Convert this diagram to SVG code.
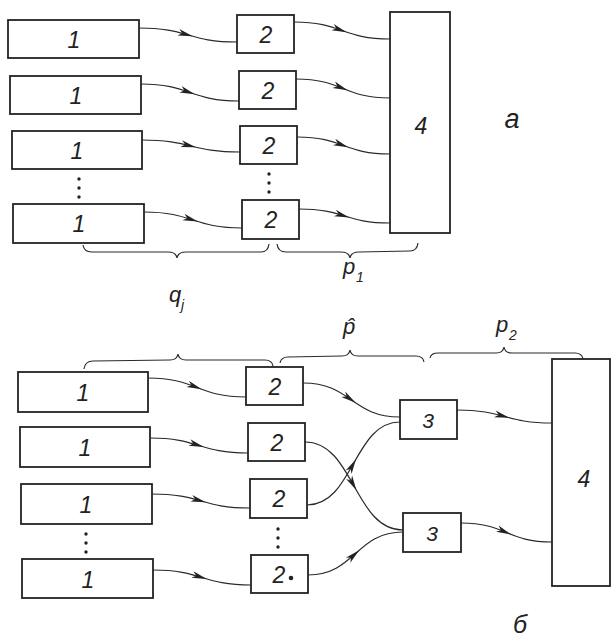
<svg xmlns="http://www.w3.org/2000/svg" width="612" height="639" viewBox="0 0 612 639">
<defs>
<style>
.box{fill:none;stroke:#232323;stroke-width:1.8}
.con{fill:none;stroke:#2a2a2a;stroke-width:1.2;marker-mid:url(#ah)}
.br{fill:none;stroke:#2a2a2a;stroke-width:1.2}
.lb{font-family:"Liberation Sans",Arial,sans-serif;font-style:italic;font-size:23px;fill:#222;text-anchor:middle}
.sym{font-family:"Liberation Sans",Arial,sans-serif;font-style:italic;font-size:22px;fill:#222}
.sub{font-family:"Liberation Sans",Arial,sans-serif;font-style:italic;font-size:14px;fill:#222}
.dot{fill:#222}
</style>
<marker id="ah" viewBox="-16 -4 17 8" refX="-5" refY="0" markerWidth="17" markerHeight="8" markerUnits="userSpaceOnUse" orient="auto">
<path d="M0,0 L-15,-3.4 L-11,0 L-15,3.4 Z" fill="#222"/>
</marker>
</defs>
<rect width="612" height="639" fill="#ffffff"/>

<!-- Part а -->
<g id="a-src1-1"><rect class="box" x="8" y="20" width="131" height="38"/><text class="lb" x="74" y="48">1</text></g>
<g id="a-src1-2"><rect class="box" x="10" y="76" width="131" height="38"/><text class="lb" x="76" y="104">1</text></g>
<g id="a-src1-3"><rect class="box" x="12" y="131" width="130" height="38"/><text class="lb" x="77" y="159">1</text></g>
<g id="a-src1-4"><rect class="box" x="13" y="204" width="131" height="39"/><text class="lb" x="79" y="232">1</text></g>
<g id="a-dots1"><circle class="dot" cx="79" cy="179" r="1.7"/><circle class="dot" cx="79" cy="188" r="1.7"/><circle class="dot" cx="79" cy="197" r="1.7"/></g>

<g id="a-b2-1"><rect class="box" x="237" y="15" width="57" height="38"/><text class="lb" x="266" y="43">2</text></g>
<g id="a-b2-2"><rect class="box" x="239" y="71" width="57" height="38"/><text class="lb" x="268" y="99">2</text></g>
<g id="a-b2-3"><rect class="box" x="240" y="126" width="57" height="38"/><text class="lb" x="269" y="154">2</text></g>
<g id="a-b2-4"><rect class="box" x="242" y="200" width="57" height="39"/><text class="lb" x="271" y="228">2</text></g>
<g id="a-dots2"><circle class="dot" cx="269" cy="174" r="1.7"/><circle class="dot" cx="269" cy="183" r="1.7"/><circle class="dot" cx="269" cy="192" r="1.7"/></g>

<g id="a-b4"><rect class="box" x="390" y="12" width="60" height="221"/><text class="lb" x="421" y="134">4</text></g>

<g id="a-connectors">
<path class="con" d="M139,28 C163.5,28 175.75,31.5 188,35 C200.25,38.5 212.5,42 237,42"/>
<path class="con" d="M294,22 C318,22 330,26.25 342,30.5 C354,34.75 366,39 390,39"/>
<path class="con" d="M141,84 C165.5,84 177.75,88.25 190,92.5 C202.25,96.75 214.5,101 239,101"/>
<path class="con" d="M296,79 C319.5,79 331.25,83.75 343,88.5 C354.75,93.25 366.5,98 390,98"/>
<path class="con" d="M142,140 C166.5,140 178.75,143 191,146 C203.25,149 215.5,152 240,152"/>
<path class="con" d="M297,137 C320.25,137 331.9,141.25 343.5,145.5 C355.1,149.75 366.75,154 390,154"/>
<path class="con" d="M144,212 C168.5,212 180.75,216 193,220 C205.25,224 217.5,228 242,228"/>
<path class="con" d="M299,209 C321.75,209 333.1,212.5 344.5,216 C355.9,219.5 367.25,223 390,223"/>
</g>

<g id="a-braces">
<path class="br" d="M83,245 Q84,252 92,252 L168,252 Q176,252 177,258 Q178,252 186,252 L261,252 Q268,252 269,244"/>
<path class="br" d="M277,244 Q278,252 286,252 L341,252 Q349,252 350,258 Q351,252 359,252 L410,251 Q417,251 418,243"/>
</g>
<g id="a-labels">
<text class="sym" x="343" y="274">p</text><text class="sub" x="356" y="282">1</text>
<text class="sym" x="169" y="302">q</text><text class="sub" x="181" y="310">j</text>
<text class="sym" x="343" y="334">p̂</text>
<text class="sym" x="496" y="332">p</text><text class="sub" x="509" y="340">2</text>
<text class="sym" x="512" y="128" style="font-size:27px;text-anchor:middle">а</text>
</g>

<!-- Part б -->
<g id="b-braces">
<path class="br" d="M84,369 Q85,361 93,361 L170,360 Q177,360 178,354 Q179,360 186,360 L265,360 Q272,360 273,366"/>
<path class="br" d="M280,363 Q281,357 288,357 L342,356 Q349,356 350,350 Q351,356 358,356 L416,356 Q423,356 424,362"/>
<path class="br" d="M430,358 Q431,353 438,353 L496,353 Q503,353 504,347 Q505,353 512,353 L575,353 Q582,353 583,359"/>
</g>

<g id="b-src1-1"><rect class="box" x="18" y="372" width="130" height="40"/><text class="lb" x="83" y="401">1</text></g>
<g id="b-src1-2"><rect class="box" x="20" y="427" width="130" height="40"/><text class="lb" x="85" y="456">1</text></g>
<g id="b-src1-3"><rect class="box" x="21" y="484" width="131" height="40"/><text class="lb" x="86" y="513">1</text></g>
<g id="b-src1-4"><rect class="box" x="22" y="559" width="131" height="39"/><text class="lb" x="88" y="588">1</text></g>
<g id="b-dots1"><circle class="dot" cx="86" cy="534" r="1.7"/><circle class="dot" cx="86" cy="543" r="1.7"/><circle class="dot" cx="86" cy="552" r="1.7"/></g>

<g id="b-b2-1"><rect class="box" x="246" y="367" width="57" height="38"/><text class="lb" x="275" y="395">2</text></g>
<g id="b-b2-2"><rect class="box" x="248" y="423" width="57" height="38"/><text class="lb" x="277" y="451">2</text></g>
<g id="b-b2-3"><rect class="box" x="250" y="479" width="57" height="39"/><text class="lb" x="279" y="507">2</text></g>
<g id="b-b2-4"><rect class="box" x="251" y="555" width="57" height="38"/><text class="lb" x="279" y="583">2</text><circle class="dot" cx="291" cy="578" r="2.3"/></g>
<g id="b-dots2"><circle class="dot" cx="278" cy="529" r="1.7"/><circle class="dot" cx="278" cy="538" r="1.7"/><circle class="dot" cx="278" cy="547" r="1.7"/></g>

<g id="b-b3-1"><rect class="box" x="400" y="400" width="57" height="39"/><text class="lb" x="428" y="428" style="font-size:21px">3</text></g>
<g id="b-b3-2"><rect class="box" x="403" y="513" width="58" height="39"/><text class="lb" x="432" y="541" style="font-size:21px">3</text></g>

<g id="b-b4"><rect class="box" x="552" y="359" width="58" height="227"/><text class="lb" x="584" y="487">4</text></g>

<g id="b-connectors">
<path class="con" d="M148,378 C172.5,378 184.75,382.75 197,387.5 C209.25,392.25 221.5,397 246,397"/>
<path class="con" d="M150,438 C174.5,438 186.75,441.75 199,445.5 C211.25,449.25 223.5,453 248,453"/>
<path class="con" d="M152,494 C176.5,494 188.75,497.5 201,501 C213.25,504.5 225.5,508 250,508"/>
<path class="con" d="M153,570 C177.5,570 189.75,573.75 202,577.5 C214.25,581.25 226.5,585 251,585"/>
<path class="con" d="M303,383 C327.25,383 339.4,391.5 351.5,400 C363.6,408.5 375.75,417 400,417"/>
<path class="con" d="M305,442 C329.5,442 341.75,464 354,486 C366.25,508 378.5,530 403,530"/>
<path class="con" d="M307,505 C330.25,505 341.9,484.25 353.5,463.5 C365.1,442.75 376.75,422 400,422"/>
<path class="con" d="M308,575 C331.75,575 343.6,564.25 355.5,553.5 C367.4,542.75 379.25,532 403,532"/>
<path class="con" d="M457,410 C480.75,410 492.6,413.25 504.5,416.5 C516.4,419.75 528.25,423 552,423"/>
<path class="con" d="M461,523 C483.75,523 495.1,527.75 506.5,532.5 C517.9,537.25 529.25,542 552,542"/>
</g>

<text class="sym" x="520" y="633" style="font-size:25px;text-anchor:middle">б</text>
</svg>
